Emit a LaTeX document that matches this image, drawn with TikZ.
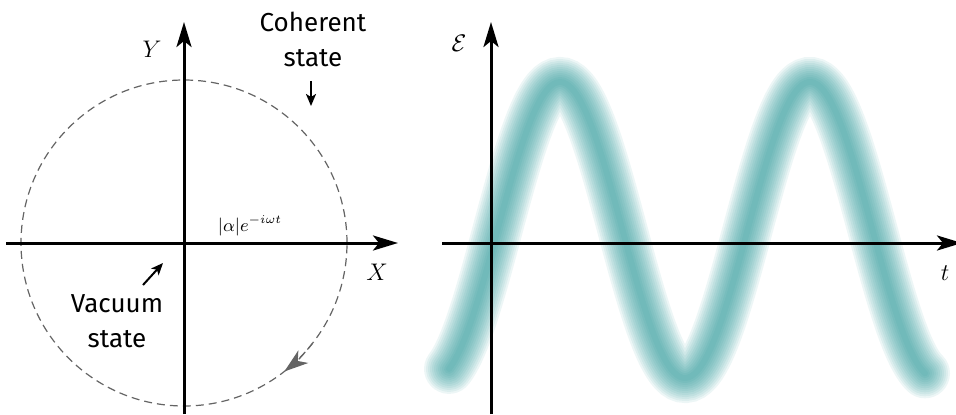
\documentclass[tikz,border=0pt]{standalone}
\usepackage{fontspec}
\usetikzlibrary{arrows.meta,positioning}
\newfontfamily\handfont{Fira Sans}
\definecolor{wavecol}{RGB}{20,140,140}
\definecolor{circcol}{RGB}{100,100,100}

\begin{document}
\begin{tikzpicture}[
  x=0.5pt, y=0.5pt,
  axis/.style={line width=1.5pt, -{Stealth[length=12.5pt,width=7.5pt,inset=3pt]}},
  hand/.style={font=\handfont\fontsize{13}{17.5}\selectfont, align=center, inner sep=0pt},
  lbl/.style={font=\large, inner sep=0pt},
  pointer/.style={line width=1pt, -{Stealth[length=6pt,width=5pt,inset=1.5pt]}}
]
\useasboundingbox (0,0) rectangle (956,414);

% phase space picture
\begin{scope}[shift={(184,171)}]
  \draw[circcol, line width=0.6pt, dash pattern=on 4pt off 2.5pt] (0,0) circle (163);
  \draw[circcol, line width=0.6pt, dash pattern=on 4pt off 2.5pt,
        -{Stealth[length=12pt,width=8pt,inset=3.5pt]}] (-38:163) arc (-38:-52:163);
  \draw[axis] (-178,0) -- (214,0);
  \draw[axis] (0,-171) -- (0,221);
  \node[lbl] (xlab) at (193,-29) {$X$};
  \node[lbl] (ylab) at (-32,194) {$Y$};
  \node[font=\small, inner sep=0pt] (amp) at (66,17) {$|\alpha|e^{-i\omega t}$};
  % labels with pointers
  \node[hand] (coh) at (129,204) {Coherent\\state};
  \coordinate (cohtip) at (127,137);
  \draw[pointer] (coh.south -| cohtip) ++(0,-14) -- (cohtip);
  \node[hand] (vac) at (-67,-78) {Vacuum\\state};
  \coordinate (vactip) at (-21,-20);
  \draw[pointer] (-41,-42) -- (vactip);
\end{scope}

% field in time
\begin{scope}[shift={(491,171)}]
  \foreach \w in {25,23,...,3}
    \draw[wavecol, line width=\w pt, opacity=0.075, line cap=round]
      plot[domain=-42:434, samples=160, smooth] (\x, {13+148*sin((\x-6.5)*1.44)});
  \draw[axis] (-49,0) -- (471,0);
  \draw[axis] (0,-171) -- (0,221);
  \node[lbl] (tlab) at (454,-30) {$t$};
  \node[lbl] (elab) at (-32,200) {$\mathcal{E}$};
\end{scope}
\end{tikzpicture}
\end{document}
